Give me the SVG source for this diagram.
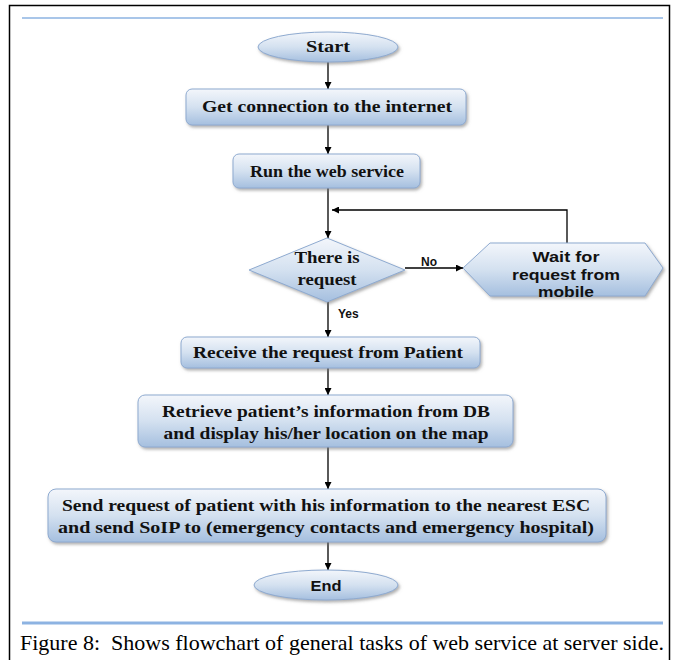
<svg xmlns="http://www.w3.org/2000/svg" width="678" height="660" viewBox="0 0 678 660">
<defs>
<linearGradient id="g" x1="0" y1="0" x2="0" y2="1">
<stop offset="0" stop-color="#f3f6fb"/>
<stop offset="0.5" stop-color="#d4e1f0"/>
<stop offset="1" stop-color="#a5bfdf"/>
</linearGradient>
<filter id="sh" x="-10%" y="-20%" width="120%" height="150%">
<feDropShadow dx="1.5" dy="2" stdDeviation="1.5" flood-color="#7a7a7a" flood-opacity="0.6"/>
</filter>
<marker id="ah" viewBox="0 0 10 10" refX="10" refY="5" markerWidth="7" markerHeight="7" markerUnits="userSpaceOnUse" orient="auto">
<path d="M0,0 L10,5 L0,10 z" fill="#000"/>
</marker>
<style>
.shape{fill:url(#g);stroke:#8eaad0;stroke-width:1;filter:url(#sh)}
.t{font-family:"Liberation Serif","Times New Roman",serif;font-weight:bold;font-size:16px;fill:#111;text-anchor:middle}
.s{font-family:"Liberation Sans",Arial,sans-serif;font-weight:bold;font-size:15.5px;fill:#111;text-anchor:middle}
.lbl{font-family:"Liberation Sans",Arial,sans-serif;font-weight:bold;font-size:12px;fill:#111}
.c{stroke:#000;stroke-width:1.3;fill:none}
</style>
</defs>
<rect x="0" y="0" width="678" height="660" fill="#fff"/>
<path d="M9.5,665 V5.5 H669.5 V665" fill="none" stroke="#000" stroke-width="1.5"/>
<line x1="22" y1="18" x2="663" y2="18" stroke="#8db3e2" stroke-width="1.5"/>
<line x1="22" y1="623" x2="663" y2="623" stroke="#8db3e2" stroke-width="3"/>
<text x="342" y="650" font-family="'Liberation Serif','Times New Roman',serif" font-size="21" text-anchor="middle" fill="#000" textLength="644" lengthAdjust="spacingAndGlyphs" style="white-space:pre">Figure 8:  Shows flowchart of general tasks of web service at server side.</text>

<g id="connectors">
<line class="c" x1="328" y1="62" x2="328" y2="89" marker-end="url(#ah)"/>
<line class="c" x1="328" y1="125" x2="328" y2="154" marker-end="url(#ah)"/>
<line class="c" x1="328" y1="188" x2="328" y2="238" marker-end="url(#ah)"/>
<polyline class="c" points="567,243 567,210 332,210" marker-end="url(#ah)"/>
<line class="c" x1="405" y1="268" x2="463" y2="268" marker-end="url(#ah)"/>
<line class="c" x1="328" y1="302" x2="328" y2="337" marker-end="url(#ah)"/>
<line class="c" x1="328" y1="368" x2="328" y2="395" marker-end="url(#ah)"/>
<line class="c" x1="328" y1="447" x2="328" y2="489" marker-end="url(#ah)"/>
<line class="c" x1="328" y1="542" x2="328" y2="570" marker-end="url(#ah)"/>
<text class="lbl" x="421" y="266">No</text>
<text class="lbl" x="338" y="318">Yes</text>
</g>

<g id="start">
<ellipse class="shape" cx="328" cy="47" rx="70" ry="15"/>
<text class="t" x="328" y="52" textLength="44" lengthAdjust="spacingAndGlyphs">Start</text>
</g>
<g id="connect">
<rect class="shape" x="186" y="89" width="280" height="36" rx="6"/>
<text class="t" x="327" y="112" textLength="250" lengthAdjust="spacingAndGlyphs">Get connection to the internet</text>
</g>
<g id="run">
<rect class="shape" x="233" y="154" width="187" height="34" rx="6"/>
<text class="t" x="327" y="177" textLength="154" lengthAdjust="spacingAndGlyphs">Run the web service</text>
</g>
<g id="decision">
<polygon class="shape" points="327,238 405,270 327,302 249,270"/>
<text class="t" x="327" y="263" textLength="65" lengthAdjust="spacingAndGlyphs">There is</text>
<text class="t" x="327" y="285" textLength="59" lengthAdjust="spacingAndGlyphs">request</text>
</g>
<g id="wait">
<polygon class="shape" points="463,268 490,243 645,243 663,268 645,296 490,296"/>
<text class="s" x="566" y="262" textLength="67" lengthAdjust="spacingAndGlyphs">Wait for</text>
<text class="s" x="566" y="280" textLength="108" lengthAdjust="spacingAndGlyphs">request from</text>
<text class="s" x="566" y="297" textLength="56" lengthAdjust="spacingAndGlyphs">mobile</text>
</g>
<g id="receive">
<rect class="shape" x="181" y="337" width="299" height="31" rx="6"/>
<text class="t" x="328" y="358" textLength="270" lengthAdjust="spacingAndGlyphs">Receive the request from Patient</text>
</g>
<g id="retrieve">
<rect class="shape" x="138" y="395" width="375" height="52" rx="7"/>
<text class="t" x="326" y="417" textLength="328" lengthAdjust="spacingAndGlyphs">Retrieve patient’s information from DB</text>
<text class="t" x="326" y="439" textLength="325" lengthAdjust="spacingAndGlyphs">and display his/her location on the map</text>
</g>
<g id="send">
<rect class="shape" x="48" y="489" width="558" height="53" rx="8"/>
<text class="t" x="326" y="511" textLength="528" lengthAdjust="spacingAndGlyphs">Send request of patient with his information to the nearest ESC</text>
<text class="t" x="326" y="533" textLength="536" lengthAdjust="spacingAndGlyphs">and send SoIP to (emergency contacts and emergency hospital)</text>
</g>
<g id="end">
<ellipse class="shape" cx="326" cy="585" rx="72" ry="15"/>
<text class="s" x="326" y="591" textLength="31" lengthAdjust="spacingAndGlyphs">End</text>
</g>
</svg>
